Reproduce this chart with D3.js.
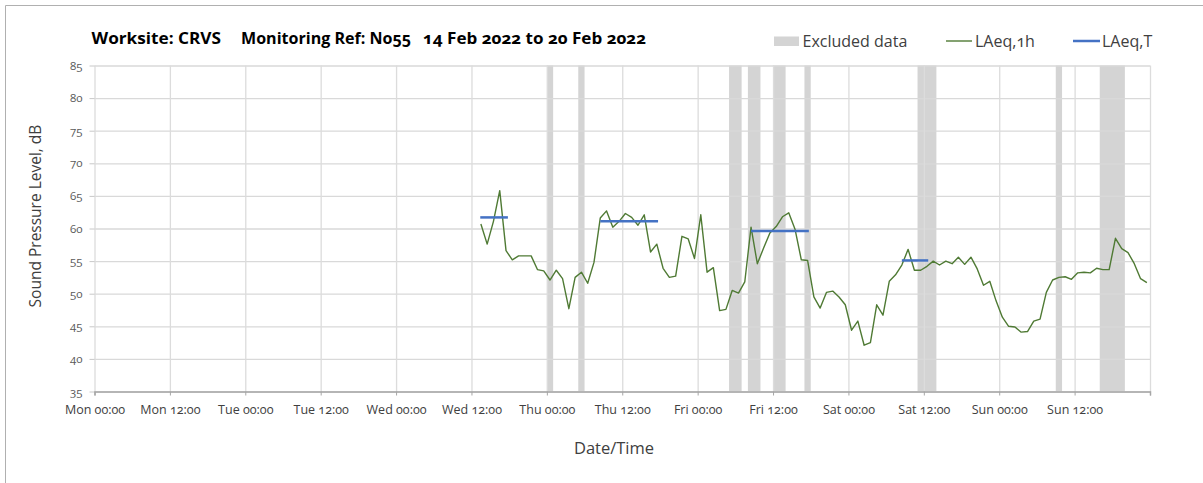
<!DOCTYPE html>
<html>
<head>
<meta charset="utf-8">
<script src="https://cdn.jsdelivr.net/npm/d3@7"></script>
<style>
  body { margin: 0; background: #fff; }
  svg { display: block; font-family: "Open Sans", sans-serif; font-feature-settings: "onum"; }
</style>
</head>
<body>
<svg id="chart" width="1203" height="483"></svg>
<script>
// hours are counted from Mon 14 Feb 2022 00:00
var tickHours = [0, 12, 24, 36, 48, 60, 72, 84, 96, 108, 120, 132, 144, 156, 168];
var tickLabels = ["Mon 00:00", "Mon 12:00", "Tue 00:00", "Tue 12:00", "Wed 00:00", "Wed 12:00",
  "Thu 00:00", "Thu 12:00", "Fri 00:00", "Fri 12:00", "Sat 00:00", "Sat 12:00",
  "Sun 00:00", "Sun 12:00", ""];
var yTicks = [35, 40, 45, 50, 55, 60, 65, 70, 75, 80, 85];

// excluded data periods [start hour, end hour]
var excluded = [[72, 73], [77, 78], [101, 103], [104, 106], [108, 110], [113, 114],
  [131, 134], [153, 154], [160, 164]];

// hourly LAeq,1h, first value at Wed 13:30
var laeq1hStart = 61.5;
var laeq1h = [
  60.7, 57.6, 61.1, 65.8, 56.6, 55.2, 55.8, 55.8, 55.8, 53.7,
  53.5, 52.1, 53.6, 52.3, 47.7, 52.5, 53.3, 51.6, 54.8, 61.6,
  62.7, 60.2, 61.1, 62.3, 61.7, 60.5, 62.1, 56.4, 57.6, 53.9,
  52.5, 52.7, 58.8, 58.4, 55.4, 62.1, 53.3, 54.0, 47.4, 47.6,
  50.5, 50.1, 51.8, 60.2, 54.6, 57.0, 59.3, 60.3, 61.8, 62.4,
  59.9, 55.2, 55.1, 49.5, 47.8, 50.2, 50.4, 49.5, 48.3, 44.4,
  45.8, 42.1, 42.5, 48.3, 46.7, 51.9, 52.9, 54.4, 56.8, 53.6,
  53.6, 54.2, 55.0, 54.4, 55.0, 54.6, 55.6, 54.5, 55.6, 53.8,
  51.3, 51.9, 48.9, 46.4, 45.0, 44.9, 44.1, 44.2, 45.8, 46.1,
  50.2, 52.1, 52.5, 52.6, 52.2, 53.2, 53.3, 53.2, 53.9, 53.7,
  53.7, 58.5, 56.9, 56.3, 54.6, 52.3, 51.7
];

// LAeq,T periods
var laeqTStart = [61.4, 80.5, 104.5, 128.5];
var laeqTEnd = [65.8, 89.7, 113.7, 132.7];
var laeqT = [61.7, 61.1, 59.6, 55.1];

var svg = d3.select("#chart");
var plot = { left: 94.5, right: 1150, top: 65.5, bottom: 391.5 };

var x = d3.scaleLinear().domain([0, 168]).range([plot.left, plot.right]);
var y = d3.scaleLinear().domain([35, 85]).range([plot.bottom, plot.top]);

// outer frame (top and left edges only visible)
svg.append("line").attr("x1", 5.5).attr("x2", 1203).attr("y1", 5.5).attr("y2", 5.5)
  .attr("stroke", "#b0b0b0").attr("stroke-width", 1);
svg.append("line").attr("x1", 5.5).attr("x2", 5.5).attr("y1", 5.5).attr("y2", 483)
  .attr("stroke", "#b0b0b0").attr("stroke-width", 1);

// excluded bands
svg.append("g").selectAll("rect")
  .data(excluded)
  .enter()
  .append("rect")
  .attr("x", (d) => x(d[0]))
  .attr("width", (d) => x(d[1]) - x(d[0]))
  .attr("y", plot.top)
  .attr("height", plot.bottom - plot.top)
  .attr("fill", "#d4d4d4");

// grid
svg.append("g")
  .attr("transform", `translate(${plot.left},0)`)
  .call(d3.axisLeft(y).tickValues(yTicks).tickSize(-(plot.right - plot.left)).tickFormat(""))
  .call((g) => g.select(".domain").remove())
  .call((g) => g.selectAll(".tick line").attr("stroke", "#d9d9d9").attr("stroke-width", 1.3));

svg.append("g")
  .attr("transform", `translate(0,${plot.bottom})`)
  .call(d3.axisTop(x).tickValues(tickHours).tickSize(plot.bottom - plot.top).tickFormat(""))
  .call((g) => g.select(".domain").remove())
  .call((g) => g.selectAll(".tick line").attr("stroke", "#dcdcdc").attr("stroke-width", 1.3));

// y axis ticks + labels
svg.append("g")
  .attr("transform", `translate(${plot.left},0)`)
  .call(d3.axisLeft(y).tickValues(yTicks).tickSize(5).tickPadding(7))
  .call((g) => g.select(".domain").remove())
  .call((g) => g.selectAll(".tick line").attr("stroke", "#c8c8c8"))
  .call((g) => g.selectAll(".tick text").attr("fill", "#595959").attr("font-size", 11.5)
    .attr("font-family", "Open Sans"));

// x axis
svg.append("g")
  .attr("transform", `translate(0,${plot.bottom})`)
  .call(d3.axisBottom(x).tickValues(tickHours).tickSize(4).tickPadding(10)
    .tickFormat((d, i) => tickLabels[i]))
  .call((g) => g.select(".domain").attr("stroke", "#a6a6a6").attr("stroke-width", 1.5))
  .call((g) => g.selectAll(".tick line").attr("stroke", "#a6a6a6"))
  .call((g) => g.selectAll(".tick text").attr("fill", "#404040").attr("font-size", 12.5)
    .attr("font-family", "Open Sans"));

// LAeq,1h line
var line = d3.line()
  .x((d, i) => x(laeq1hStart + i))
  .y((d) => y(d));

svg.append("path")
  .datum(laeq1h)
  .attr("fill", "none")
  .attr("stroke", "#4f7a34")
  .attr("stroke-width", 1.4)
  .attr("stroke-linejoin", "round")
  .attr("d", line);

// LAeq,T segments
svg.append("g").selectAll("line")
  .data(laeqT)
  .enter()
  .append("line")
  .attr("x1", (d, i) => x(laeqTStart[i]))
  .attr("x2", (d, i) => x(laeqTEnd[i]))
  .attr("y1", (d) => y(d))
  .attr("y2", (d) => y(d))
  .attr("stroke", "#4472c4")
  .attr("stroke-width", 2.5);

// title
var title = svg.append("g").attr("font-weight", "bold").attr("font-size", 16).attr("fill", "#000");
title.append("text").attr("x", 91.5).attr("y", 44).attr("textLength", 129.5)
  .attr("lengthAdjust", "spacingAndGlyphs").text("Worksite: CRVS");
title.append("text").attr("x", 241).attr("y", 44).attr("textLength", 170)
  .attr("lengthAdjust", "spacingAndGlyphs").text("Monitoring Ref: No55");
title.append("text").attr("x", 423).attr("y", 44).attr("textLength", 223)
  .attr("lengthAdjust", "spacingAndGlyphs").text("14 Feb 2022 to 20 Feb 2022");

// legend
var legend = svg.append("g").attr("font-size", 16).attr("fill", "#404040");
legend.append("rect").attr("x", 774).attr("y", 36.5).attr("width", 25).attr("height", 9.5).attr("fill", "#d4d4d4");
legend.append("text").attr("x", 802.5).attr("y", 47).text("Excluded data");
legend.append("line").attr("x1", 946).attr("x2", 972).attr("y1", 41).attr("y2", 41)
  .attr("stroke", "#4f7a34").attr("stroke-width", 1.4);
legend.append("text").attr("x", 975).attr("y", 47).text("LAeq,1h");
legend.append("line").attr("x1", 1073).attr("x2", 1100).attr("y1", 41).attr("y2", 41)
  .attr("stroke", "#4472c4").attr("stroke-width", 2.5);
legend.append("text").attr("x", 1102).attr("y", 47).text("LAeq,T");

// axis titles
svg.append("text")
  .attr("transform", "translate(41,216) rotate(-90)")
  .attr("text-anchor", "middle")
  .attr("font-size", 15.5)
  .attr("fill", "#404040")
  .text("Sound Pressure Level, dB");

svg.append("text")
  .attr("x", 614)
  .attr("y", 454)
  .attr("text-anchor", "middle")
  .attr("font-size", 16.5)
  .attr("fill", "#404040")
  .text("Date/Time");
</script>
</body>
</html>
